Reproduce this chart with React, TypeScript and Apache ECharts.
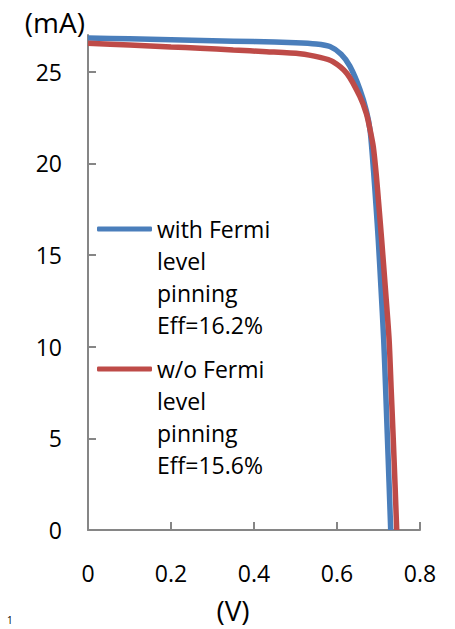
import React, { useEffect, useRef } from "react";
import * as echarts from "echarts";

const seriesNames = [
  "with Fermi\nlevel\npinning\nEff=16.2%",
  "w/o Fermi\nlevel\npinning\nEff=15.6%",
];
const seriesColors = ["#4A7EBB", "#BE4B48"];

const withPinning: [number, number][] = [
  [0, 26.84], [0.1, 26.79], [0.2, 26.74], [0.3, 26.69], [0.4, 26.64],
  [0.5, 26.58], [0.55, 26.51], [0.583, 26.37], [0.61, 25.95], [0.631, 25.3],
  [0.655, 24.05], [0.671, 22.85], [0.68, 21.75], [0.688, 19.6], [0.694, 17.7],
  [0.6995, 15.8], [0.706, 13.2], [0.7125, 10.4], [0.717, 7.8], [0.7212, 5.2],
  [0.7254, 2.6], [0.7294, 0],
];
const withoutPinning: [number, number][] = [
  [0, 26.55], [0.1, 26.45], [0.2, 26.35], [0.27, 26.28], [0.35, 26.18],
  [0.43, 26.09], [0.511, 25.98], [0.559, 25.78], [0.59, 25.55], [0.624, 24.9],
  [0.655, 23.65], [0.671, 22.7], [0.68, 21.8], [0.6875, 20.9], [0.6945, 19.4],
  [0.7012, 17.6], [0.7077, 15.8], [0.7165, 13.2], [0.7255, 10.4], [0.7305, 7.7],
  [0.7355, 5.0], [0.7398, 2.5], [0.7439, 0],
];
const yTicks = [0, 5, 10, 15, 20, 25];

const FONT = "'Open Sans', 'Noto Sans', sans-serif";
const FS = 23;
const NAME_FS = 28;
const AXIS_COLOR = "#868686";

export default function App() {
  const ref = useRef<HTMLDivElement>(null);
  useEffect(() => {
    if (!ref.current) return;
    const chart = echarts.init(ref.current, null, { renderer: "svg" });
    const legendBase = {
      left: 97,
      padding: 0,
      itemWidth: 55,
      itemHeight: 5,
      icon: "roundRect",
      formatter: (name: string) => "\n\n\n" + name,
      textStyle: {
        fontFamily: FONT,
        fontSize: FS,
        color: "#000",
        lineHeight: 32,
      },
    };
    chart.setOption({
      animation: false,
      backgroundColor: "#fff",
      textStyle: { fontFamily: FONT },
      grid: { left: 88, right: 35, top: 35, bottom: 99, containLabel: false, outerBoundsMode: "none" },
      legend: [
        { ...legendBase, data: [seriesNames[0]], top: 117 },
        { ...legendBase, data: [seriesNames[1]], top: 257 },
      ],
      xAxis: {
        type: "value",
        min: 0,
        max: 0.8,
        interval: 0.2,
        name: "(V)",
        nameLocation: "middle",
        nameGap: 80,
        nameTextStyle: {
          fontFamily: FONT,
          fontSize: NAME_FS,
          color: "#000",
          verticalAlign: "middle",
          padding: [0, 42, 0, 0],
        },
        splitLine: { show: false },
        axisLine: { show: true, lineStyle: { color: AXIS_COLOR, width: 2 } },
        axisTick: { show: true, inside: true, length: 8, lineStyle: { color: AXIS_COLOR, width: 2 } },
        axisLabel: {
          margin: 31,
          fontFamily: FONT,
          fontSize: FS,
          color: "#000",
          formatter: (v: number) => String(+v.toFixed(1)),
        },
      },
      yAxis: {
        type: "value",
        min: 0,
        max: 27,
        interval: 5,
        name: "(mA)",
        nameLocation: "end",
        nameGap: 13,
        nameTextStyle: {
          fontFamily: FONT,
          fontSize: NAME_FS,
          color: "#000",
          align: "right",
          verticalAlign: "middle",
          padding: [0, 3, 0, 0],
        },
        splitLine: { show: false },
        axisLine: { show: true, lineStyle: { color: AXIS_COLOR, width: 2 } },
        axisTick: {
          show: true,
          inside: true,
          length: 8,
          customValues: yTicks,
          lineStyle: { color: AXIS_COLOR, width: 2 },
        },
        axisLabel: {
          margin: 26,
          fontFamily: FONT,
          fontSize: FS,
          color: "#000",
          customValues: yTicks,
        },
      },
      series: [
        {
          name: seriesNames[0],
          type: "line",
          data: withPinning,
          smooth: 0.25,
          showSymbol: false,
          symbol: "none",
          color: seriesColors[0],
          lineStyle: { width: 5.5, color: seriesColors[0] },
        },
        {
          name: seriesNames[1],
          type: "line",
          data: withoutPinning,
          smooth: 0.25,
          showSymbol: false,
          symbol: "none",
          color: seriesColors[1],
          lineStyle: { width: 5.5, color: seriesColors[1] },
        },
      ],
      graphic: [
        {
          type: "text",
          left: 7,
          top: 615,
          style: { text: "1", fontSize: 10, fill: "#000", fontFamily: FONT },
        },
      ],
    });
    return () => chart.dispose();
  }, []);
  return (
    <div
      ref={ref}
      style={{ position: "fixed", left: 0, top: 0, width: 455, height: 629 }}
    />
  );
}
